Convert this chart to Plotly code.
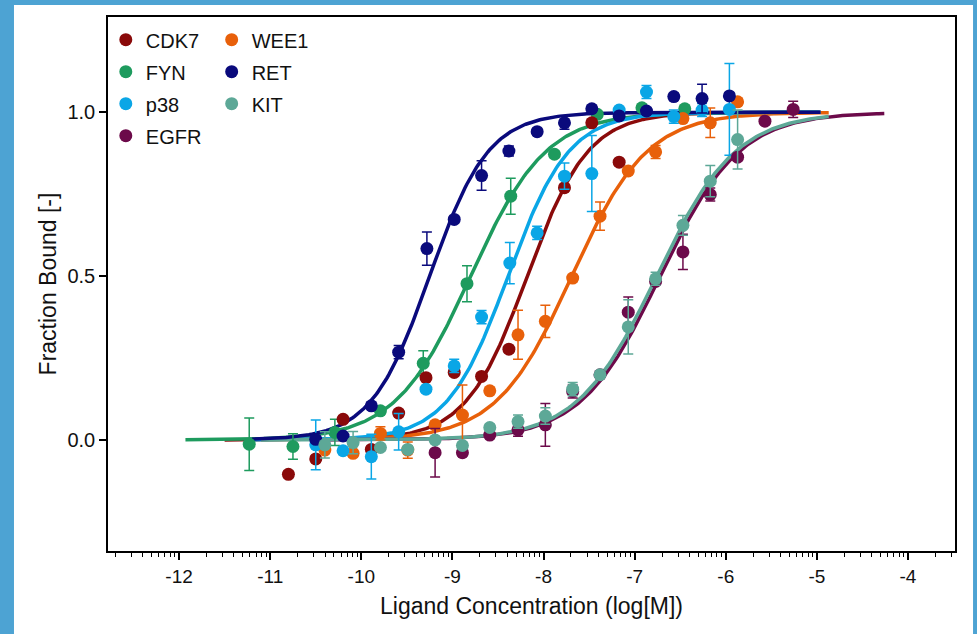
import numpy as np
import plotly.graph_objects as go

# ---------------- data ----------------
names = ["CDK7", "WEE1", "FYN", "RET", "p38", "KIT", "EGFR"]
colors = {"CDK7": "#8A0A0A", "WEE1": "#E8600A", "FYN": "#1E9B5E", "RET": "#0A0A7C",
          "p38": "#0AA6E6", "KIT": "#5DA897", "EGFR": "#6C0A4A"}

cdk7_x = [-10.80, -10.50, -10.20, -9.89, -9.59, -9.29, -8.98, -8.68, -8.38, -7.77, -7.47, -7.17]
cdk7_y = [-0.105, -0.058, 0.063, -0.029, 0.082, 0.190, 0.206, 0.194, 0.277, 0.770, 0.968, 0.848]
cdk7_e = [0.01, 0.01, 0.01, 0.01, 0.01, 0.01, 0.01, 0.01, 0.01, 0.01, 0.01, 0.01]

wee1_x = [-10.40, -10.09, -9.79, -9.49, -9.19, -8.89, -8.59, -8.28, -7.98, -7.68, -7.38, -7.07, -6.77, -6.47, -6.17, -5.87]
wee1_y = [-0.031, -0.041, 0.020, -0.031, 0.046, 0.076, 0.150, 0.321, 0.362, 0.494, 0.683, 0.821, 0.879, 0.981, 0.968, 1.032]
wee1_e = [0.01, 0.01, 0.02, 0.025, 0.01, 0.092, 0.01, 0.075, 0.049, 0.01, 0.043, 0.01, 0.02, 0.01, 0.045, 0.01]

fyn_x = [-11.23, -10.75, -10.29, -9.79, -9.32, -8.84, -8.36, -7.88, -7.41, -6.92, -6.45]
fyn_y = [-0.013, -0.020, 0.023, 0.089, 0.234, 0.477, 0.744, 0.872, 0.994, 1.014, 1.011]
fyn_e = [0.08, 0.039, 0.04, 0.01, 0.038, 0.055, 0.055, 0.01, 0.01, 0.01, 0.01]

ret_x = [-10.50, -10.20, -9.89, -9.59, -9.28, -8.98, -8.68, -8.38, -8.07, -7.77, -7.47, -7.17, -6.87, -6.57, -6.26, -5.96]
ret_y = [0.002, 0.012, 0.104, 0.268, 0.584, 0.673, 0.807, 0.882, 0.941, 0.968, 1.011, 0.989, 1.004, 1.048, 1.042, 1.050]
ret_e = [0.01, 0.01, 0.01, 0.02, 0.051, 0.01, 0.045, 0.015, 0.01, 0.02, 0.01, 0.01, 0.01, 0.01, 0.044, 0.01]

p38_x = [-10.50, -10.20, -9.89, -9.59, -9.29, -8.98, -8.68, -8.37, -8.07, -7.77, -7.47, -7.17, -6.87, -6.57, -6.26, -5.96]
p38_y = [-0.015, -0.033, -0.051, 0.025, 0.155, 0.226, 0.375, 0.540, 0.632, 0.805, 0.813, 1.007, 1.062, 0.987, 1.007, 1.009]
p38_e = [0.076, 0.01, 0.068, 0.056, 0.01, 0.02, 0.02, 0.063, 0.02, 0.04, 0.116, 0.01, 0.02, 0.02, 0.02, 0.14]

kit_x = [-10.40, -10.09, -9.79, -9.49, -9.19, -8.89, -8.59, -8.28, -7.98, -7.68, -7.38, -7.07, -6.77, -6.47, -6.17, -5.87]
kit_y = [-0.015, -0.008, -0.023, -0.029, 0.000, -0.017, 0.038, 0.056, 0.073, 0.155, 0.199, 0.345, 0.492, 0.655, 0.790, 0.917]
kit_e = [0.04, 0.034, 0.01, 0.01, 0.01, 0.01, 0.01, 0.02, 0.025, 0.02, 0.01, 0.083, 0.02, 0.03, 0.048, 0.09]

egfr_x = [-9.19, -8.89, -8.59, -8.28, -7.98, -7.68, -7.38, -7.07, -6.77, -6.47, -6.17, -5.87, -5.57, -5.26]
egfr_y = [-0.039, -0.039, 0.015, 0.031, 0.046, 0.148, 0.199, 0.390, 0.484, 0.574, 0.749, 0.863, 0.973, 1.009]
egfr_e = [0.074, 0.01, 0.01, 0.02, 0.065, 0.02, 0.01, 0.046, 0.01, 0.054, 0.02, 0.01, 0.01, 0.025]

# fitted binding-curve parameters (log Kd, Hill slope) and fitted range
fit_logkd = {"CDK7": -8.18, "WEE1": -7.69, "FYN": -8.80, "RET": -9.25, "p38": -8.39, "KIT": -6.76, "EGFR": -6.72}
fit_hill = {"CDK7": 1.3, "WEE1": 1.05, "FYN": 1.05, "RET": 1.35, "p38": 1.3, "KIT": 1.0, "EGFR": 1.0}
fit_start = {"CDK7": -11.5, "WEE1": -11.1, "FYN": -11.93, "RET": -11.2, "p38": -11.2, "KIT": -11.1, "EGFR": -10.5}
fit_end = {"CDK7": -4.96, "WEE1": -4.87, "FYN": -4.98, "RET": -4.96, "p38": -4.96, "KIT": -4.87, "EGFR": -4.26}

x_tick_vals = [-12, -11, -10, -9, -8, -7, -6, -5, -4]
x_tick_text = ["-12", "-11", "-10", "-9", "-8", "-7", "-6", "-5", "-4"]
y_tick_vals = [0.0, 0.5, 1.0]
y_tick_text = ["0.0", "0.5", "1.0"]

series = {
    "CDK7": (cdk7_x, cdk7_y, cdk7_e),
    "WEE1": (wee1_x, wee1_y, wee1_e),
    "FYN": (fyn_x, fyn_y, fyn_e),
    "RET": (ret_x, ret_y, ret_e),
    "p38": (p38_x, p38_y, p38_e),
    "KIT": (kit_x, kit_y, kit_e),
    "EGFR": (egfr_x, egfr_y, egfr_e),
}

FONT = "Arial, 'Liberation Sans', sans-serif"

fig = go.Figure()

# fitted curves
line_order = ["CDK7", "FYN", "WEE1", "p38", "EGFR", "KIT", "RET"]
for n in line_order:
    xs = np.linspace(fit_start[n], fit_end[n], 300)
    ys = 1.0 / (1.0 + 10 ** (fit_hill[n] * (fit_logkd[n] - xs)))
    fig.add_trace(go.Scatter(x=xs, y=ys, mode="lines", line=dict(color=colors[n], width=3.5),
                             showlegend=False, hoverinfo="skip"))

# data points with error bars
legend_of = {"CDK7": "legend", "FYN": "legend", "p38": "legend", "EGFR": "legend",
             "WEE1": "legend2", "RET": "legend2", "KIT": "legend2"}
rank_of = {"CDK7": 1, "FYN": 2, "p38": 3, "EGFR": 4, "WEE1": 1, "RET": 2, "KIT": 3}
point_order = ["FYN", "CDK7", "WEE1", "p38", "RET", "EGFR", "KIT"]
for n in point_order:
    x, y, e = series[n]
    fig.add_trace(go.Scatter(
        x=x, y=y, mode="markers", name=n,
        marker=dict(color=colors[n], size=13, line=dict(width=0)),
        error_y=dict(type="data", array=e, visible=True, color=colors[n], thickness=1.5, width=5),
        legend=legend_of[n], legendrank=rank_of[n], legendgroup=n,
    ))

minor_vals = [d + np.log10(k) for d in range(-13, -3) for k in range(2, 10)]

legend_common = dict(font=dict(family=FONT, size=20, color="#111111"), bgcolor="rgba(0,0,0,0)",
                     borderwidth=0, orientation="v", yanchor="top", xanchor="left",
                     tracegroupgap=3, itemwidth=30)

fig.update_layout(
    width=977, height=634,
    margin=dict(l=108, r=22, t=17, b=83),
    paper_bgcolor="#4DA3D3",
    plot_bgcolor="white",
    font=dict(family=FONT, size=20, color="#111111"),
    legend=dict(x=-0.0026, y=0.994, **legend_common),
    legend2=dict(x=0.1224, y=0.994, **legend_common),
    shapes=[dict(type="rect", xref="paper", yref="paper", x0=-0.111, x1=1.0213, y0=-0.3, y1=1.0225,
                 fillcolor="white", line=dict(width=0), layer="below")],
    xaxis=dict(range=[-12.78, -3.484], showgrid=False, zeroline=False,
               showline=True, mirror=True, linecolor="black", linewidth=1.5,
               ticks="outside", ticklen=7, tickwidth=1.5, tickcolor="black",
               tickvals=x_tick_vals, ticktext=x_tick_text,
               tickfont=dict(family=FONT, size=19, color="#111111"),
               minor=dict(tickmode="array", tickvals=minor_vals, ticks="outside", ticklen=4,
                          tickwidth=1, tickcolor="black"),
               title=dict(text="Ligand Concentration (log[M])", font=dict(family=FONT, size=23, color="#111111"),
                          standoff=12)),
    yaxis=dict(range=[-0.339, 1.291], showgrid=False, zeroline=False,
               showline=True, mirror=True, linecolor="black", linewidth=1.5,
               ticks="outside", ticklen=7, tickwidth=1.5, tickcolor="black",
               tickvals=y_tick_vals, ticktext=y_tick_text,
               tickfont=dict(family=FONT, size=20, color="#111111"),
               title=dict(text="Fraction Bound [-]", font=dict(family=FONT, size=23, color="#111111"),
                          standoff=4)),
)

fig.write_html("out.html", config={"displayModeBar": False},
               post_script="document.body.style.margin='0px';")
